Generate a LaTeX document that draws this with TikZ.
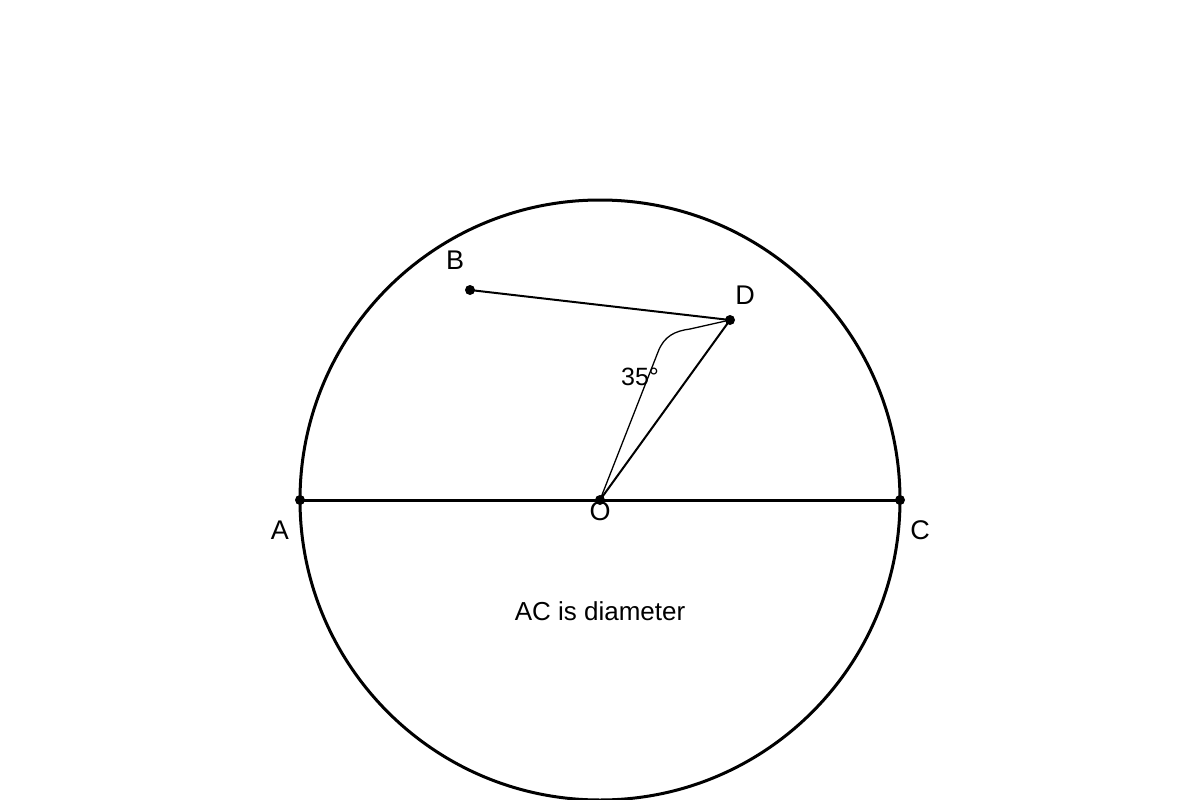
\documentclass[tikz,border=0pt]{standalone}
\usepackage{fontspec}
\setmainfont{Liberation Sans}
\begin{document}
\begin{tikzpicture}[x=1pt,y=-1pt,
  dot/.style={circle,fill=black,inner sep=0pt,minimum size=10pt},
  lbl/.style={font=\fontsize{27}{32}\selectfont,inner sep=0pt},
  thick line/.style={line width=3pt},
  mid line/.style={line width=2pt},
  thin line/.style={line width=1.3pt}]
\useasboundingbox (0,0) rectangle (1200,800);
\coordinate (Oc) at (600,500);
\draw[thick line] (Oc) circle (300pt);
\node[dot] (A) at (300,500) {};
\node[dot] (C) at (900,500) {};
\node[dot] (O) at (600,500) {};
\node[dot] (B) at (470,290) {};
\node[dot] (D) at (730,320) {};
\draw[thick line] (A.center) -- (C.center);
\draw[mid line] (B.center) -- (D.center);
\draw[mid line] (O.center) -- (D.center);
\draw[thin line] (O.center) -- (658,352) .. controls (664,336) and (675,331) .. (690,329) -- (D.center);
\node[lbl] (lA) at (280,530) {A};
\node[lbl] (lC) at (920,530) {C};
\node[lbl] (lO) at (600,511) {O};
\node[lbl] (lB) at (455,260) {B};
\node[lbl] (lD) at (745,295) {D};
\node[lbl,font=\fontsize{25}{30}\selectfont] (ang) at (640,377) {35°};
\node[lbl,font=\fontsize{26}{31}\selectfont] (cap) at (600,611) {AC is diameter};
\end{tikzpicture}
\end{document}
